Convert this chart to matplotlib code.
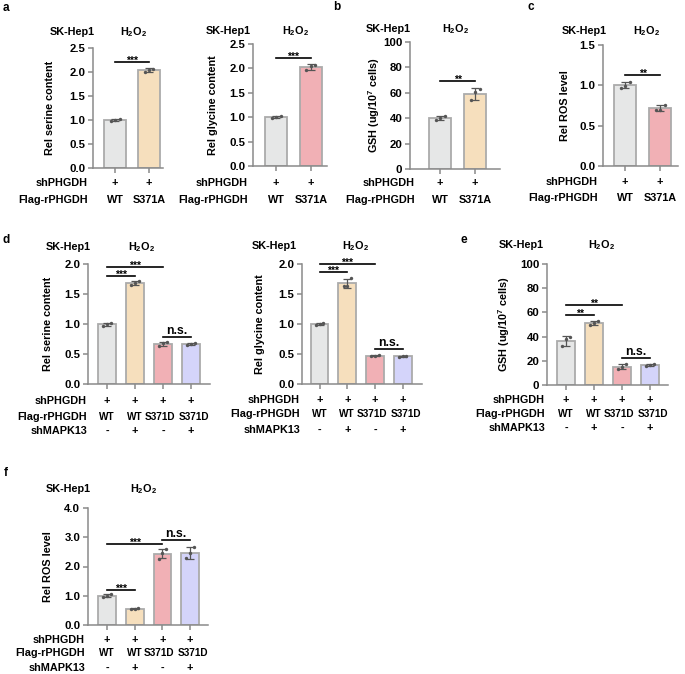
import numpy as np
import matplotlib
matplotlib.use("Agg")
import matplotlib.pyplot as plt
from matplotlib.transforms import blended_transform_factory

plt.rcParams['font.family'] = ['Liberation Sans', 'DejaVu Sans']
plt.rcParams['font.weight'] = 'bold'
plt.rcParams['mathtext.fontset'] = 'custom'
plt.rcParams['mathtext.rm'] = 'Liberation Sans:bold'
plt.rcParams['mathtext.bf'] = 'Liberation Sans:bold'
plt.rcParams['mathtext.it'] = 'Liberation Sans:bold'

# ---------------- data ----------------
# panel a (serine / glycine), b (GSH), c (ROS): WT vs S371A
a_ser_pts = [[0.97, 1.00, 1.02], [2.00, 2.05, 2.07]]
a_gly_pts = [[0.98, 1.00, 1.02], [1.96, 2.04, 2.07]]
b_gsh_pts = [[38.5, 40.0, 42.0], [54.0, 61.0, 63.0]]
c_ros_pts = [[0.97, 0.99, 1.04], [0.69, 0.70, 0.76]]
# panel d (serine / glycine), e (GSH), f (ROS): 4 groups
d_ser_pts = [[0.97, 1.00, 1.02], [1.65, 1.68, 1.72], [0.63, 0.68, 0.70], [0.65, 0.66, 0.68]]
d_gly_pts = [[0.99, 1.00, 1.01], [1.63, 1.64, 1.77], [0.46, 0.47, 0.48], [0.45, 0.46, 0.47]]
e_gsh_pts = [[32.0, 38.0, 40.0], [50.0, 51.0, 53.0], [13.0, 15.0, 17.0], [16.0, 16.5, 17.0]]
f_ros_pts = [[0.95, 1.00, 1.05], [0.53, 0.55, 0.57], [2.27, 2.45, 2.60], [2.28, 2.45, 2.67]]

row_names_2 = ["shPHGDH", "Flag-rPHGDH"]
row_names_3 = ["shPHGDH", "Flag-rPHGDH", "shMAPK13"]
rows_2 = [["+", "+"], ["WT", "S371A"]]
rows_4 = [["+", "+", "+", "+"], ["WT", "WT", "S371D", "S371D"], ["-", "+", "-", "+"]]

colors_2a = ["#e6e7e7", "#f6dfbd"]
colors_2b = ["#e6e7e7", "#f1b0b5"]
colors_4 = ["#e6e7e7", "#f6dfbd", "#f1b0b5", "#d4d4fa"]

W, H = 685, 674
fig = plt.figure(figsize=(W / 100, H / 100), dpi=100)

FS = 7.8
VFS = 7.2
TFS = 8.2
AXC = "#8a8a8a"
SHIFT_4 = [0.0, 0.0, -0.12, 0.1]


def fx(px):
    return px / W


def fy(py):
    return 1 - py / H


def make_panel(pts, colors, left, right, top, bottom, xlim, ylim, yticks, yfmt,
               ylabel, ylab_px, rows, row_names, row_y, row_right, sig):
    ax = fig.add_axes([fx(left), fy(bottom), fx(right - left), (bottom - top) / H])
    n = len(pts)
    x = np.arange(n)
    means = [np.mean(p) for p in pts]
    sds = [np.std(p, ddof=1) for p in pts]
    ax.bar(x, means, width=0.64, color=colors, edgecolor="#ababab", linewidth=1.3, zorder=2)
    ax.errorbar(x, means, yerr=sds, fmt="none", ecolor="#555555", elinewidth=0.9,
                capsize=3.2, capthick=0.9, zorder=3)
    jit = [-0.13, 0.0, 0.13]
    for i, p in enumerate(pts):
        ax.scatter(x[i] + np.array(jit), p, s=6, color="#555555", zorder=4, linewidths=0)
    ax.set_xlim(*xlim)
    ax.set_ylim(*ylim)
    ax.set_yticks(yticks)
    ax.set_yticklabels([yfmt.format(v) for v in yticks], fontsize=TFS, fontweight="bold")
    ax.set_xticks(x)
    ax.set_xticklabels([])
    for s in ["top", "right"]:
        ax.spines[s].set_visible(False)
    for s in ["left", "bottom"]:
        ax.spines[s].set_color(AXC)
        ax.spines[s].set_linewidth(1.1)
    ax.tick_params(axis="both", colors=AXC, width=1.1, length=3.5, labelcolor="black", pad=2)
    ax.set_ylabel(ylabel, fontsize=FS, fontweight="bold")
    ax.yaxis.set_label_coords((ylab_px - left) / (right - left), 0.5)
    # rows of labels below
    tr = blended_transform_factory(ax.transData, fig.transFigure)
    for r, (name, vals) in enumerate(zip(row_names, rows)):
        fig.text(fx(row_right), fy(row_y[r]), name, ha="right", va="center",
                 fontsize=FS, fontweight="bold")
        for i, v in enumerate(vals):
            dx = SHIFT_4[i] if (n == 4 and r == 1) else 0.0
            ax.text(x[i] + dx, fy(row_y[r]), v, transform=tr, ha="center", va="center",
                    fontsize=VFS if (r == 1 and n == 4) else FS, fontweight="bold")
    # significance
    for (i0, i1, yv, lab) in sig:
        ax.plot([i0, i1], [yv, yv], color="black", lw=1.2, clip_on=False, zorder=5)
        if lab == "n.s.":
            ax.text((i0 + i1) / 2, yv, lab, ha="center", va="bottom", fontsize=8.8,
                    fontweight="bold")
        else:
            ax.annotate(lab, ((i0 + i1) / 2, yv), xytext=(0, -1.2), textcoords="offset points",
                        ha="center", va="baseline", fontsize=7.5, fontweight="bold")
    return ax


def titles(sk_x, h_x, y):
    fig.text(fx(sk_x), fy(y), "SK-Hep1", ha="center", va="center", fontsize=FS, fontweight="bold")
    fig.text(fx(h_x), fy(y), r"H$_2$O$_2$", ha="center", va="center", fontsize=FS, fontweight="bold")


# ---- panel a: serine ----
make_panel(a_ser_pts, colors_2a, 93, 163, 48, 168, (-0.65, 1.41), (0, 2.5),
           [0, 0.5, 1.0, 1.5, 2.0, 2.5], "{:.1f}", "Rel serine content", 55,
           rows_2, row_names_2, [183, 200], 88, [(0, 1, 2.21, "***")])
titles(72, 133, 32)
# ---- panel a: glycine ----
make_panel(a_gly_pts, colors_2b, 253, 327, 44, 166, (-0.66, 1.46), (0, 2.5),
           [0, 0.5, 1.0, 1.5, 2.0, 2.5], "{:.1f}", "Rel glycine content", 218,
           rows_2, row_names_2, [183, 200], 248, [(0, 1, 2.21, "***")])
titles(228, 295, 31)
# ---- panel b ----
make_panel(b_gsh_pts, colors_2a, 410, 500, 42, 169, (-0.86, 1.71), (0, 100),
           [0, 20, 40, 60, 80, 100], "{:.0f}", r"GSH (ug/10$^7$ cells)", 382,
           rows_2, row_names_2, [183, 200], 415, [(0, 1, 69, "**")])
titles(388, 455, 29)
# ---- panel c ----
make_panel(c_ros_pts, colors_2b, 603, 678, 45, 166, (-0.63, 1.51), (0, 1.5),
           [0, 0.5, 1.0, 1.5], "{:.1f}", "Rel ROS level", 570,
           rows_2, row_names_2, [182, 198], 598, [(0, 1, 1.13, "**")])
titles(584, 646, 31)

# ---- panel d: serine ----
make_panel(d_ser_pts, colors_4, 88, 210, 264, 384, (-0.68, 3.68), (0, 2.0),
           [0, 0.5, 1.0, 1.5, 2.0], "{:.1f}", "Rel serine content", 53,
           rows_4, row_names_3, [401, 417, 431], 87,
           [(0, 2, 1.95, "***"), (0, 1, 1.80, "***"), (2, 3, 0.78, "n.s.")])
titles(68, 141, 247)
# ---- panel d: glycine ----
make_panel(d_gly_pts, colors_4, 302, 422, 264, 384, (-0.63, 3.69), (0, 2.0),
           [0, 0.5, 1.0, 1.5, 2.0], "{:.1f}", "Rel glycine content", 265,
           rows_4, row_names_3, [400, 414, 430], 300,
           [(0, 2, 2.0, "***"), (0, 1, 1.87, "***"), (2, 3, 0.58, "n.s.")])
titles(274, 355, 246)
# ---- panel e ----
make_panel(e_gsh_pts, colors_4, 547, 668, 264, 385, (-0.68, 3.64), (0, 100),
           [0, 20, 40, 60, 80, 100], "{:.0f}", r"GSH (ug/10$^7$ cells)", 512,
           rows_4, row_names_3, [400, 414, 428], 545,
           [(0, 2, 66, "**"), (0, 1, 58, "**"), (2, 3, 22.3, "n.s.")])
titles(521, 601, 245)
# ---- panel f ----
make_panel(f_ros_pts, colors_4, 88, 208, 508, 625, (-0.69, 3.65), (0, 4.0),
           [0, 1.0, 2.0, 3.0, 4.0], "{:.1f}", "Rel ROS level", 53,
           rows_4, row_names_3, [640, 653, 668], 85,
           [(0, 2, 2.77, "***"), (0, 1, 1.2, "***"), (2, 3, 2.9, "n.s.")])
titles(68, 143, 489)

# panel letters
for lab, px, py in [("a", 6, 8), ("b", 337, 7), ("c", 531, 7), ("d", 6, 240),
                    ("e", 464, 240), ("f", 6, 473)]:
    fig.text(fx(px), fy(py), lab, ha="center", va="center", fontsize=8.5, fontweight="bold")

fig.savefig("out.png", dpi=100)
